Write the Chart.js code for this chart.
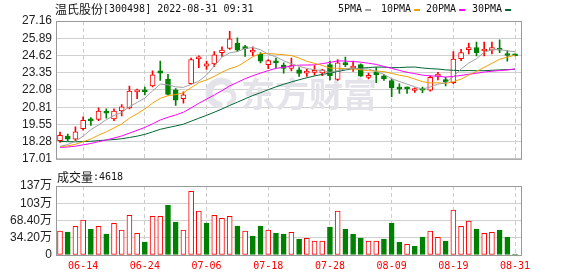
<!DOCTYPE html>
<html>
<head>
<meta charset="utf-8">
<script src="https://cdn.jsdelivr.net/npm/chart.js@4.4.0/dist/chart.umd.min.js"></script>
<style>
html, body { margin: 0; padding: 0; background: #fff; }
#wrap { position: relative; width: 578px; height: 276px; overflow: hidden; }
#k { position: absolute; left: 0; top: 0; }
#v { position: absolute; left: 0; top: 170px; }
</style>
</head>
<body>
<div id="wrap">
  <canvas id="k" width="578" height="170"></canvas>
  <canvas id="v" width="578" height="106"></canvas>
</div>
<script>
// trading days shown (06-09 .. 08-31)
const dates = [
    '06-09', '06-10', '06-13', '06-14', '06-15', '06-16', '06-17', '06-20', '06-21', '06-22',
    '06-23', '06-24', '06-27', '06-28', '06-29', '06-30', '07-01', '07-04', '07-05', '07-06',
    '07-07', '07-08', '07-11', '07-12', '07-13', '07-14', '07-15', '07-18', '07-19', '07-20',
    '07-21', '07-22', '07-25', '07-26', '07-27', '07-28', '07-29', '08-01', '08-02', '08-03',
    '08-04', '08-05', '08-08', '08-09', '08-10', '08-11', '08-12', '08-15', '08-16', '08-17',
    '08-18', '08-19', '08-22', '08-23', '08-24', '08-25', '08-26', '08-29', '08-30', '08-31'
];
const dateTickIndex = [3, 11, 19, 27, 35, 43, 51, 59];

const opens = [
    18.35, 18.68, 18.45, 19.23, 19.94, 19.91, 20.44, 19.94, 20.53, 20.76,
    21.93, 22.02, 22.37, 23.49, 22.89, 22.09, 21.43, 22.54, 24.36, 23.84,
    24.00, 24.83, 25.14, 25.54, 25.19, 24.86, 24.73, 23.95, 24.15, 23.91,
    23.67, 23.56, 23.32, 23.37, 23.34, 23.95, 22.85, 24.08, 23.70, 23.95,
    23.01, 23.42, 23.13, 22.78, 22.30, 22.23, 22.04, 22.11, 22.07, 23.10,
    22.85, 22.61, 24.38, 25.05, 25.21, 24.95, 25.02, 25.07, 24.69, 24.66
];
const closes = [
    18.73, 18.45, 18.99, 19.85, 19.80, 20.53, 20.37, 20.53, 20.83, 22.00,
    22.09, 21.95, 23.20, 23.32, 21.76, 21.33, 21.73, 24.31, 24.52, 24.00,
    24.66, 25.02, 25.85, 25.02, 25.12, 25.02, 24.20, 24.24, 24.08, 23.67,
    23.88, 23.30, 23.44, 23.51, 23.55, 23.13, 24.08, 23.95, 23.84, 23.10,
    23.15, 23.18, 22.89, 22.23, 22.14, 22.16, 22.11, 22.07, 23.01, 23.22,
    22.66, 24.36, 24.83, 25.21, 24.83, 25.07, 25.21, 25.02, 24.62, 24.60
];
const highs = [
    18.97, 18.83, 19.37, 20.10, 20.05, 20.76, 20.69, 20.69, 21.00, 22.37,
    22.14, 22.30, 23.49, 24.20, 23.24, 22.18, 21.95, 24.43, 24.59, 24.20,
    24.90, 25.26, 26.39, 25.92, 25.37, 25.26, 24.83, 24.31, 24.43, 24.08,
    24.43, 23.72, 23.60, 23.88, 23.60, 24.20, 24.31, 24.50, 24.20, 24.00,
    23.32, 23.72, 23.24, 22.89, 22.54, 22.30, 22.23, 22.30, 23.13, 23.37,
    23.01, 24.90, 25.07, 25.54, 25.61, 25.61, 25.61, 25.78, 24.98, 24.75
];
const lows = [
    18.21, 18.35, 18.35, 19.11, 19.47, 19.82, 20.01, 19.82, 20.17, 20.69,
    21.43, 21.71, 22.30, 22.78, 21.71, 20.95, 21.10, 22.51, 23.72, 23.60,
    23.79, 24.55, 25.07, 24.90, 24.55, 24.59, 24.08, 23.65, 23.72, 23.32,
    23.49, 23.08, 23.08, 23.17, 23.13, 22.82, 22.78, 23.79, 23.44, 23.08,
    22.89, 22.61, 22.78, 21.59, 21.83, 21.83, 21.90, 21.88, 22.00, 22.82,
    22.37, 22.54, 24.24, 24.73, 24.59, 24.59, 24.73, 24.83, 24.20, 24.58
];

const ma5 = [
    17.92, 18.06, 18.30, 18.68, 19.16, 19.50, 19.89, 20.20, 20.42, 20.85,
    21.16, 21.48, 22.01, 22.51, 22.46, 22.31, 22.27, 22.49, 22.73, 23.18,
    23.84, 24.50, 24.81, 24.91, 25.13, 25.21, 25.04, 24.71, 24.52, 24.23,
    24.01, 23.83, 23.67, 23.56, 23.52, 23.37, 23.52, 23.63, 23.69, 23.63,
    23.63, 23.44, 23.23, 22.91, 22.71, 22.51, 22.31, 22.14, 22.30, 22.51,
    22.61, 23.06, 23.62, 24.06, 24.38, 24.86, 25.03, 25.07, 24.95, 24.90
];
const ma10 = [
    17.89, 17.96, 18.08, 18.27, 18.47, 18.75, 19.00, 19.28, 19.58, 20.00,
    20.33, 20.68, 21.11, 21.46, 21.66, 21.74, 21.87, 22.25, 22.62, 22.82,
    23.08, 23.39, 23.65, 23.82, 24.16, 24.53, 24.77, 24.76, 24.72, 24.68,
    24.61, 24.43, 24.19, 24.04, 23.88, 23.69, 23.68, 23.65, 23.63, 23.57,
    23.50, 23.48, 23.43, 23.30, 23.17, 23.07, 22.88, 22.69, 22.60, 22.61,
    22.56, 22.69, 22.88, 23.18, 23.45, 23.74, 24.05, 24.34, 24.50, 24.64
];
const ma20 = [
    17.85, 17.88, 17.94, 18.04, 18.14, 18.27, 18.40, 18.54, 18.69, 18.90,
    19.11, 19.32, 19.59, 19.87, 20.07, 20.24, 20.44, 20.76, 21.10, 21.41,
    21.71, 22.03, 22.38, 22.64, 22.91, 23.13, 23.32, 23.51, 23.67, 23.75,
    23.84, 23.91, 23.92, 23.93, 24.02, 24.11, 24.22, 24.21, 24.17, 24.13,
    24.05, 23.96, 23.81, 23.67, 23.52, 23.38, 23.28, 23.17, 23.12, 23.09,
    23.03, 23.08, 23.15, 23.24, 23.31, 23.40, 23.46, 23.51, 23.55, 23.63
];
const ma30 = [
    18.29, 18.27, 18.26, 18.28, 18.30, 18.35, 18.39, 18.43, 18.49, 18.58,
    18.68, 18.81, 18.99, 19.18, 19.31, 19.43, 19.56, 19.78, 20.00, 20.21,
    20.44, 20.68, 20.94, 21.18, 21.43, 21.67, 21.88, 22.10, 22.31, 22.50,
    22.67, 22.83, 22.98, 23.11, 23.23, 23.32, 23.44, 23.55, 23.65, 23.69,
    23.73, 23.77, 23.76, 23.72, 23.73, 23.76, 23.77, 23.70, 23.65, 23.62,
    23.56, 23.53, 23.50, 23.51, 23.50, 23.50, 23.53, 23.56, 23.58, 23.61
];

// volume in 万
const volumes = [
    47.6, 45.6, 56.9, 69.4, 51.5, 56.9, 41.6, 62.8, 49.6, 78.6,
    42.9, 25.8, 76.6, 76.6, 99.1, 65.4, 49.6, 126.2, 87.2, 63.4,
    78.6, 72.7, 76.6, 57.5, 47.6, 37.7, 57.5, 49.6, 42.9, 41.6,
    44.9, 31.7, 33.0, 27.8, 27.8, 55.5, 87.2, 51.5, 41.6, 33.7,
    27.8, 27.8, 31.7, 63.4, 25.1, 21.1, 17.2, 35.7, 47.6, 35.0,
    27.8, 89.2, 56.9, 67.4, 51.5, 42.9, 44.9, 49.6, 35.7, 2.0
];

const priceTicks = [17.01, 18.28, 19.55, 20.81, 22.08, 23.35, 24.62, 25.89, 27.16];
const volTicks = [0, 34.2, 68.4, 102.6, 136.8];
const volTickLabels = ['0', '34.20万', '68.40万', '103万', '137万'];

const maNames = ['5PMA', '10PMA', '20PMA', '30PMA'];
const maColors = ['#a0a0a0', '#f5a000', '#ff00ff', '#006633'];

const RED = '#ff0000';
const GREEN = '#008000';
const AXIS_FONT = "'Liberation Sans', 'Noto Sans CJK SC', sans-serif";
const CJK_FONT = "'Noto Sans CJK SC', sans-serif";
const MONO_FONT = "'DejaVu Sans Mono', monospace";

const X_MIN = -0.52, X_MAX = 59.9;

function candleUp(i) {
    return closes[i] >= opens[i];
}

function volumeUp(i) {
    return i === 0 ? candleUp(0) : closes[i] >= closes[i - 1];
}

function xAxis(showLabels) {
    return {
        type: 'linear',
        min: X_MIN,
        max: X_MAX,
        offset: false,
        afterBuildTicks: s => { s.ticks = dateTickIndex.map(v => ({ value: v })); },
        afterFit: s => { s.height = showLabels ? 21 : 0; },
        ticks: {
            display: showLabels,
            autoSkip: false,
            maxRotation: 0,
            padding: 5,
            color: RED,
            font: { family: MONO_FONT, size: 10 },
            callback: v => dates[v]
        },
        grid: { color: '#cccccc', drawTicks: false, offset: false },
        border: { display: false, dash: [4, 3] }
    };
}

function drawRuns(ctx, x, y, runs) {
    runs.forEach(([text, font]) => {
        ctx.font = font;
        ctx.fillText(text, x, y);
        x += ctx.measureText(text).width;
    });
}

// plot frame
const frame = {
    id: 'frame',
    afterDatasetsDraw(chart) {
        const { left, top, right, bottom } = chart.chartArea;
        const ctx = chart.ctx;
        ctx.save();
        ctx.strokeStyle = '#999999';
        ctx.lineWidth = 1;
        ctx.strokeRect(left + 0.5, top + 0.5, right - left - 1, bottom - top);
        ctx.restore();
    }
};

// faint 东方财富 mark behind the candles
const watermark = {
    id: 'watermark',
    beforeDatasetsDraw(chart) {
        const ctx = chart.ctx;
        ctx.save();
        ctx.fillStyle = '#e3e3e9';
        ctx.strokeStyle = '#e3e3e9';
        ctx.textBaseline = 'middle';
        ctx.font = 'bold 34px ' + CJK_FONT;
        ctx.fillText('东方财富', 241, 94);
        ctx.lineCap = 'round';
        ctx.lineWidth = 7;
        ctx.beginPath();
        ctx.arc(221, 93, 12, Math.PI * 0.55, Math.PI * 1.75);
        ctx.stroke();
        ctx.lineWidth = 5;
        ctx.beginPath();
        ctx.arc(227, 97, 7, Math.PI * 1.4, Math.PI * 0.4);
        ctx.stroke();
        ctx.restore();
    }
};

// title line and MA legend
const header = {
    id: 'header',
    afterDraw(chart) {
        const ctx = chart.ctx;
        ctx.save();
        ctx.fillStyle = '#111111';
        ctx.textBaseline = 'middle';
        drawRuns(ctx, 55, 9, [
            ['温氏股份', '12px ' + CJK_FONT],
            ['[300498] 2022-08-31 09:31', '10px ' + MONO_FONT]
        ]);
        const itemX = [338, 381, 426, 472];
        ctx.font = '10px ' + MONO_FONT;
        maNames.forEach((name, i) => {
            ctx.fillStyle = '#111111';
            ctx.fillText(name, itemX[i], 9);
            const w = ctx.measureText(name).width;
            ctx.fillStyle = maColors[i];
            ctx.fillRect(itemX[i] + w + 3, 9, 6, 2);
        });
        ctx.restore();
    }
};

const volHeader = {
    id: 'volHeader',
    afterDraw(chart) {
        const ctx = chart.ctx;
        ctx.save();
        ctx.fillStyle = '#111111';
        ctx.textBaseline = 'middle';
        drawRuns(ctx, 57, 7, [
            ['成交量', '12px ' + CJK_FONT],
            [':4618', '10px ' + MONO_FONT]
        ]);
        ctx.restore();
    }
};

function maDataset(values, i) {
    return {
        type: 'line',
        label: maNames[i],
        data: values.map((v, j) => ({ x: j, y: v })),
        borderColor: maColors[i],
        borderWidth: 1,
        pointRadius: 0,
        tension: 0,
        fill: false
    };
}

function createPriceChart() {
    const ctx = document.getElementById('k').getContext('2d');
    return new Chart(ctx, {
        type: 'bar',
        data: {
            datasets: [
                maDataset(ma5, 0),
                maDataset(ma10, 1),
                maDataset(ma20, 2),
                maDataset(ma30, 3),
                {
                    // candle bodies
                    data: dates.map((d, i) => ({ x: i, y: [opens[i], closes[i]] })),
                    grouped: false,
                    barThickness: 5,
                    minBarLength: 2,
                    borderWidth: 1,
                    borderSkipped: false,
                    borderColor: c => candleUp(c.dataIndex) ? RED : GREEN,
                    backgroundColor: c => candleUp(c.dataIndex) ? '#ffffff' : GREEN
                },
                {
                    // wicks
                    data: dates.map((d, i) => ({ x: i, y: [lows[i], highs[i]] })),
                    grouped: false,
                    barThickness: 1,
                    borderWidth: 0,
                    backgroundColor: c => candleUp(c.dataIndex) ? RED : GREEN
                }
            ]
        },
        options: {
            responsive: false,
            animation: false,
            layout: { padding: { left: 0, right: 56, top: 21, bottom: 5 } },
            plugins: { legend: { display: false }, tooltip: { enabled: false } },
            scales: {
                x: xAxis(false),
                y: {
                    min: 17.01,
                    max: 27.16,
                    afterBuildTicks: s => { s.ticks = priceTicks.map(v => ({ value: v })); },
                    afterFit: s => { s.width = 56; },
                    ticks: {
                        autoSkip: false,
                        padding: 4,
                        color: '#222222',
                        font: { family: AXIS_FONT, size: 12 },
                        callback: v => v.toFixed(2)
                    },
                    grid: { color: '#d0d0d0', drawTicks: false },
                    border: { display: false }
                }
            }
        },
        plugins: [watermark, frame, header]
    });
}

function createVolumeChart() {
    const ctx = document.getElementById('v').getContext('2d');
    return new Chart(ctx, {
        type: 'bar',
        data: {
            datasets: [{
                data: volumes.map((v, i) => ({ x: i, y: v })),
                barThickness: 5,
                borderWidth: 1,
                borderSkipped: false,
                borderColor: c => volumeUp(c.dataIndex) ? RED : GREEN,
                backgroundColor: c => volumeUp(c.dataIndex) ? '#ffffff' : GREEN
            }]
        },
        options: {
            responsive: false,
            animation: false,
            layout: { padding: { left: 0, right: 56, top: 16, bottom: 0 } },
            plugins: { legend: { display: false }, tooltip: { enabled: false } },
            scales: {
                x: xAxis(true),
                y: {
                    min: 0,
                    max: 136.8,
                    afterBuildTicks: s => { s.ticks = volTicks.map(v => ({ value: v })); },
                    afterFit: s => { s.width = 56; },
                    ticks: {
                        autoSkip: false,
                        padding: 4,
                        color: '#222222',
                        font: { family: AXIS_FONT, size: 12 },
                        callback: (v, i) => volTickLabels[i]
                    },
                    grid: { color: '#d0d0d0', drawTicks: false },
                    border: { display: false }
                }
            }
        },
        plugins: [frame, volHeader]
    });
}

createPriceChart();
createVolumeChart();
</script>
</body>
</html>
